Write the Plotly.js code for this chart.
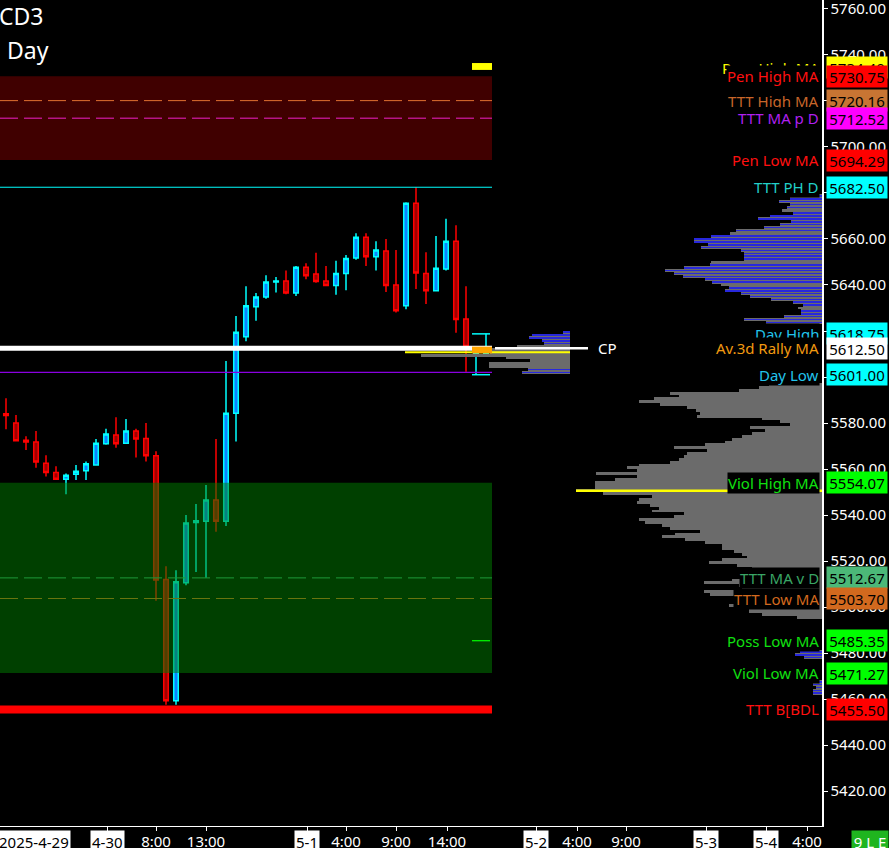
<!DOCTYPE html>
<html><head><meta charset="utf-8">
<script src="https://cdn.plot.ly/plotly-3.0.1.min.js"></script>
<style>html,body{margin:0;padding:0;background:#000;}#chart{width:889px;height:848px;}</style>
</head><body><div id="chart"></div>
<script>
// ---------- candles (hourly bars) ----------
const opens  = [5584,5580,5572.5,5571.75,5562.5,5558.5,5555.5,5557.75,5559.25,5561.75,5571,5574.75,5571.25,5576.5,5573.25,5565.75,5512,5459.25,5510.5,5536.75,5537.25,5546.5,5537.25,5584.25,5617.5,5630.5,5634.75,5641.25,5641.75,5636.5,5647.75,5644.75,5641.75,5639.75,5645,5651.75,5660.75,5652.25,5654.75,5640,5631,5675.5,5645,5637.5,5647,5659,5625.25,5609.25,5610];
const highs  = [5590.75,5583.5,5574.25,5576.5,5566,5561.25,5558,5561.75,5563.25,5573,5577.5,5582.5,5581.75,5577.5,5580,5567.75,5517.75,5516,5540,5544.75,5553,5573,5607,5626.5,5639.5,5636.5,5644.25,5643.5,5646.25,5648.25,5649.5,5654,5648.25,5650.5,5653,5662.5,5662.5,5659,5660,5655.25,5676,5682.5,5654.25,5661.25,5668.75,5666,5639.5,5612.5,5618.75];
const lows   = [5577.25,5572,5568.25,5560.5,5556.75,5555.5,5549,5555.25,5555.25,5561.5,5570.5,5569.25,5571,5565,5563.25,5502.75,5457.5,5457.5,5509.5,5515.25,5512.75,5532.75,5535.25,5572,5615.5,5624.5,5634,5636.75,5636,5635.25,5642.5,5641,5639.75,5635.75,5637.75,5651,5648.25,5646.25,5637,5628,5629.5,5638.25,5631.75,5637.25,5646.25,5619.25,5602.25,5601,5609.5];
const closes = [5583.25,5572.25,5571.75,5563,5558.5,5555.5,5557.25,5559,5562.25,5571.25,5575.25,5571,5576.5,5573,5565.75,5511.75,5459.25,5511,5536.5,5537.5,5546.5,5537.25,5584.25,5619.5,5631,5634.75,5641.25,5641.75,5636.5,5647.75,5644,5641.5,5639.75,5645,5651.5,5660.75,5652.25,5655.25,5639.75,5628.75,5675.5,5645.25,5637.5,5647.25,5659,5625,5613.25,5610.25,5610.5];

// ---------- x-axis labels ----------
const timeTickPos  = [15, 20, 34, 39, 44.1, 57.1, 62, 80.1];
const timeTickText = ['8:00','13:00','4:00','9:00','14:00','4:00','9:00','4:00'];
const dateTickPos  = [10.1, 30.1, 53, 70, 76];
const dateTickText = ['4-30','5-1','5-2','5-3','5-4'];
const firstDateText = '2025-4-29';
const firstDatePos = 2.8;

// ---------- price levels ----------
const levelNames  = ['Poss High MA','Pen High MA','TTT High MA','TTT MA p D','Pen Low MA','TTT PH D','Day High','Av.3d Rally MA','Day Low','Viol High MA','TTT MA v D','TTT Low MA','Poss Low MA','Viol Low MA','TTT B[BDL'];
const levelPrices = [5734.40,5730.75,5720.16,5712.52,5694.29,5682.50,5618.75,5612.50,5601.00,5554.07,5512.67,5503.70,5485.35,5471.27,5455.50];
const levelTextColors = ['#ffff00','#ff1010','#c8662a','#b020f0','#ff1010','#22d0c8','#22c4ec','#f29a10','#22c4ec','#10e010','#3aa565','#d2691e','#10e010','#10e010','#ff1010'];
const levelBoxColors  = ['#ffff00','#ff0000','#c87533','#ff00ff','#ff0000','#00ffff','#00ffff','#ffffff','#00ffff','#00ff00','#4cb878','#d2691e','#00ff00','#00ff00','#ff0000'];
const purpleLevel = 5602.0;
const cpPocLevel = 5610.75;

// ---------- volume profiles ----------
const upperProfPrices = [5678.75,5677.5,5676.25,5675,5673.75,5672.5,5671.25,5670,5668.75,5667.5,5666.25,5665,5663.75,5662.5,5661.25,5660,5658.75,5657.5,5656.25,5655,5653.75,5652.5,5651.25,5650,5648.75,5647.5,5646.25,5645,5643.75,5642.5,5641.25,5640,5638.75,5637.5,5636.25,5635,5633.75,5632.5,5631.25,5630,5628.75,5627.5,5626.25,5625,5623.75];
const upperProfTotal = [47,32,43,32,35,40,29,52,64,31,42,58,86,92,111,128,128,114,121,81,78,78,78,111,112,138,157,148,139,117,110,101,93,97,81,72,51,29,19,24,21,21,38,78,56];
const upperProfBlue  = [47,32,43,32,35,0,29,52,64,31,42,58,86,0,111,128,128,114,121,81,78,78,78,0,112,138,157,148,139,117,110,0,93,97,81,72,51,29,19,0,21,21,38,78,56];

const lowerProfPrices = [5596.75,5595.5,5594.25,5593,5591.75,5590.5,5589.25,5588,5586.75,5585.5,5584.25,5583,5581.75,5580.5,5579.25,5578,5576.75,5575.5,5574.25,5573,5571.75,5570.5,5569.25,5568,5566.75,5565.5,5564.25,5563,5561.75,5560.5,5559.25,5558,5556.75,5555.5,5554.25,5553,5551.75,5550.5,5549.25,5548,5546.75,5545.5,5544.25,5543,5541.75,5540.5,5539.25,5538,5536.75,5535.5,5534.25,5533,5531.75,5530.5,5529.25,5528,5526.75,5525.5,5524.25,5523,5521.75,5520.5,5519.25,5518,5516.75,5515.5,5514.25,5513,5511.75,5510.5,5509.25,5508,5506.75,5505.5,5504.25,5503,5501.75,5500.5,5499.25,5498,5496.75,5495.5];
const lowerProfTotal = [53,63,83,152,143,168,183,162,135,126,122,125,60,42,32,72,57,70,80,90,97,117,148,115,135,138,143,152,183,195,185,226,185,207,227,227,227,246,219,170,183,185,172,163,170,138,148,183,177,160,152,122,147,160,137,117,100,100,88,80,75,100,113,85,70,55,65,80,90,118,83,80,118,112,60,70,80,93,73,73,60,25];

const cpProfPrices = [5619.5,5618.25,5617,5615.75,5614.5,5613.25,5612,5610.75,5609.5,5608.25,5607,5605.75,5604.5,5603.25,5602];
const cpProfTotal  = [7,38,41,28,26,53,78,80,149,64,40,81,81,42,48];
const cpProfBlue   = [7,38,41,28,26,0,0,0,0,0,0,0,0,42,48];

const lowBlueProfPrices = [5480.5,5479.25,5478,5467.5,5466.25,5465,5463.75,5462.5];
const lowBlueProfVol    = [22,27,18,9,9,6,9,9];

// ---------- build ----------
const barIndex = opens.map((_, i) => i);
const lastIdx = barIndex[barIndex.length - 1];
const xRange = [-0.6, 81.6];
const zoneEnd = lastIdx + 0.6;
const markStart = lastIdx - 1.4;
const BLUE = '#2828dc', GRAY = '#6b6b6b';

const traces = [
  {type:'candlestick', x:barIndex, open:opens, high:highs, low:lows, close:closes,
   increasing:{line:{color:'#00ffff', width:1.5}, fillcolor:'#0a84ff'},
   decreasing:{line:{color:'#ff0000', width:1.5}, fillcolor:'#a00000'},
   whiskerwidth:0, hoverinfo:'skip'},
  {type:'bar', orientation:'h', xaxis:'x2', y:upperProfPrices, x:upperProfTotal, width:1.25, marker:{color:GRAY, line:{width:0}}, hoverinfo:'skip'},
  {type:'bar', orientation:'h', xaxis:'x2', y:upperProfPrices, x:upperProfBlue, width:0.7, marker:{color:BLUE, line:{width:0}}, hoverinfo:'skip'},
  {type:'bar', orientation:'h', xaxis:'x2', y:lowerProfPrices, x:lowerProfTotal, width:1.25, marker:{color:GRAY, line:{width:0}}, hoverinfo:'skip'},
  {type:'bar', orientation:'h', xaxis:'x2', y:lowBlueProfPrices, x:lowBlueProfVol, width:1.25, marker:{color:GRAY, line:{width:0}}, hoverinfo:'skip'},
  {type:'bar', orientation:'h', xaxis:'x2', y:lowBlueProfPrices, x:lowBlueProfVol, width:0.7, marker:{color:BLUE, line:{width:0}}, hoverinfo:'skip'},
  {type:'bar', orientation:'h', xaxis:'x3', y:cpProfPrices, x:cpProfTotal, width:1.25, marker:{color:GRAY, line:{width:0}}, hoverinfo:'skip'},
  {type:'bar', orientation:'h', xaxis:'x3', y:cpProfPrices, x:cpProfBlue, width:0.7, marker:{color:BLUE, line:{width:0}}, hoverinfo:'skip'}
];

const P = n => levelPrices[levelNames.indexOf(n)];
const hline = (y, color, width, dash, x0, x1) => ({type:'line', xref:'x', yref:'y', x0:x0, x1:x1, y0:y, y1:y, layer:'above', line:{color:color, width:width, dash:dash||'solid'}});
const DASH = '18px,6px';

// POC of lower profile
const pocI = lowerProfTotal.indexOf(Math.max(...lowerProfTotal));

const shapes = [
  {type:'rect', xref:'x', yref:'y', x0:xRange[0], x1:zoneEnd, y0:P('Pen Low MA'), y1:P('Pen High MA'), layer:'above', fillcolor:'rgba(128,0,0,0.5)', line:{width:0}},
  hline(P('TTT High MA'), '#e07030', 1, DASH, xRange[0], zoneEnd),
  hline(P('TTT MA p D'), '#f020c8', 1, DASH, xRange[0], zoneEnd),
  hline(P('TTT PH D'), '#00ffff', 1, 'solid', xRange[0], zoneEnd),
  hline(P('TTT MA v D'), '#3cb371', 1, DASH, xRange[0], zoneEnd),
  hline(P('TTT Low MA'), '#d2691e', 1, DASH, xRange[0], zoneEnd),
  {type:'rect', xref:'x', yref:'y', x0:xRange[0], x1:zoneEnd, y0:P('Viol Low MA'), y1:P('Viol High MA'), layer:'above', fillcolor:'rgba(0,128,0,0.5)', line:{width:0}},
  hline(P('TTT B[BDL'), '#ff0000', 8, 'solid', xRange[0], zoneEnd),
  hline(purpleLevel, '#8a00e0', 1.2, 'solid', xRange[0], zoneEnd),
  hline(cpPocLevel, '#ffff00', 2, 'solid', 39.9, 56.4),
  hline(P('Av.3d Rally MA'), '#ffffff', 5, 'solid', xRange[0], zoneEnd),
  hline(P('Av.3d Rally MA'), '#ffffff', 2.5, 'solid', lastIdx + 0.9, 58.2),
  {type:'rect', xref:'x', yref:'y', x0:markStart, x1:zoneEnd, y0:P('Av.3d Rally MA') - 2.2, y1:P('Av.3d Rally MA') + 0.7, layer:'above', fillcolor:'#ffa500', line:{width:0}},
  {type:'rect', xref:'x', yref:'y', x0:markStart, x1:zoneEnd, y0:P('Poss High MA') - 0.9, y1:P('Poss High MA') + 2.1, layer:'above', fillcolor:'#ffff00', line:{width:0}},
  hline(P('Day High'), '#00ffff', 1.5, 'solid', markStart, lastIdx + 0.4),
  hline(P('Day Low'), '#00ffff', 1.5, 'solid', markStart, lastIdx + 0.4),
  hline(P('Poss Low MA'), '#00ff00', 1.2, 'solid', markStart, lastIdx + 0.4),
  {type:'line', xref:'x2', yref:'y', x0:0, x1:lowerProfTotal[pocI], y0:lowerProfPrices[pocI], y1:lowerProfPrices[pocI], layer:'above', line:{color:'#ffff00', width:2.5}}
];

const FONT = 'Noto Sans, Open Sans, sans-serif';
const annotations = [];
levelNames.forEach((n, i) => {
  annotations.push({xref:'paper', yref:'y', x:1, xanchor:'right', xshift:-2, y:levelPrices[i], yanchor:'middle',
    text:n, showarrow:false, bgcolor:'#000', borderpad:0, font:{family:FONT, size:15, color:levelTextColors[i]}});
  annotations.push({xref:'paper', yref:'y', x:1, xanchor:'left', xshift:4, y:levelPrices[i], yanchor:'middle',
    text:levelPrices[i].toFixed(2), showarrow:false, bgcolor:levelBoxColors[i], width:58, height:19, borderpad:1, align:'center',
    font:{family:FONT, size:15, color:'#000'}});
});
annotations.push({xref:'x', yref:'y', x:59.0, xanchor:'left', y:P('Av.3d Rally MA'), yanchor:'middle', text:'CP', showarrow:false, font:{family:FONT, size:15, color:'#fff'}});
dateTickText.forEach((t, i) => {
  annotations.push({xref:'x', yref:'paper', x:dateTickPos[i], y:0, yanchor:'top', yshift:-4, xanchor:'center', text:t, showarrow:false,
    bgcolor:'#fff', borderpad:1, font:{family:FONT, size:15, color:'#000'}});
});
annotations.push({xref:'x', yref:'paper', x:firstDatePos, y:0, yanchor:'top', yshift:-4, xanchor:'center', text:firstDateText, showarrow:false,
  bgcolor:'#fff', borderpad:1, font:{family:FONT, size:15, color:'#000'}});
annotations.push({xref:'paper', yref:'paper', x:1, xanchor:'right', xshift:67, y:0, yanchor:'top', yshift:-4, text:'9 L E', showarrow:false,
  bgcolor:'#1fb51f', borderpad:1, width:34, font:{family:FONT, size:15, color:'#fff'}});
annotations.push({xref:'paper', yref:'paper', x:0, xanchor:'left', xshift:-3, y:1, yanchor:'top', yshift:2, text:'CD3', showarrow:false, font:{family:FONT, size:23, color:'#fff'}});
annotations.push({xref:'paper', yref:'paper', x:0, xanchor:'left', xshift:5, y:1, yanchor:'top', yshift:-32, text:'Day', showarrow:false, font:{family:FONT, size:23, color:'#fff'}});

const layout = {
  width:889, height:848,
  margin:{l:0, r:67, t:0, b:22, pad:0},
  paper_bgcolor:'#000', plot_bgcolor:'#000',
  showlegend:false, barmode:'overlay', bargap:0, boxgap:0.35,
  font:{family:FONT, size:15, color:'#fff'},
  xaxis:{range:xRange, showgrid:false, zeroline:false, showline:true, linecolor:'#fff', linewidth:1,
    ticks:'outside', ticklen:4, tickcolor:'#fff', ticklabelstandoff:-2,
    tickvals:timeTickPos.concat(dateTickPos), ticktext:timeTickText.concat(dateTickText.map(() => '')),
    tickfont:{family:FONT, size:15, color:'#fff'}, rangeslider:{visible:false}, fixedrange:true},
  xaxis2:{overlaying:'x', range:[822, 0], visible:false, fixedrange:true},
  xaxis3:{overlaying:'x', range:[570, -252], visible:false, fixedrange:true},
  yaxis:{side:'right', range:[5404.8, 5763.9], dtick:20, tick0:0, tickformat:'.2f', showgrid:false, zeroline:false,
    showline:true, linecolor:'#fff', linewidth:1.5, ticks:'outside', ticklen:4, tickcolor:'#fff', ticklabeloverflow:'allow',
    tickfont:{family:FONT, size:15, color:'#fff'}, fixedrange:true},
  shapes:shapes, annotations:annotations
};
Plotly.newPlot('chart', traces, layout, {displayModeBar:false, staticPlot:true});
</script></body></html>
